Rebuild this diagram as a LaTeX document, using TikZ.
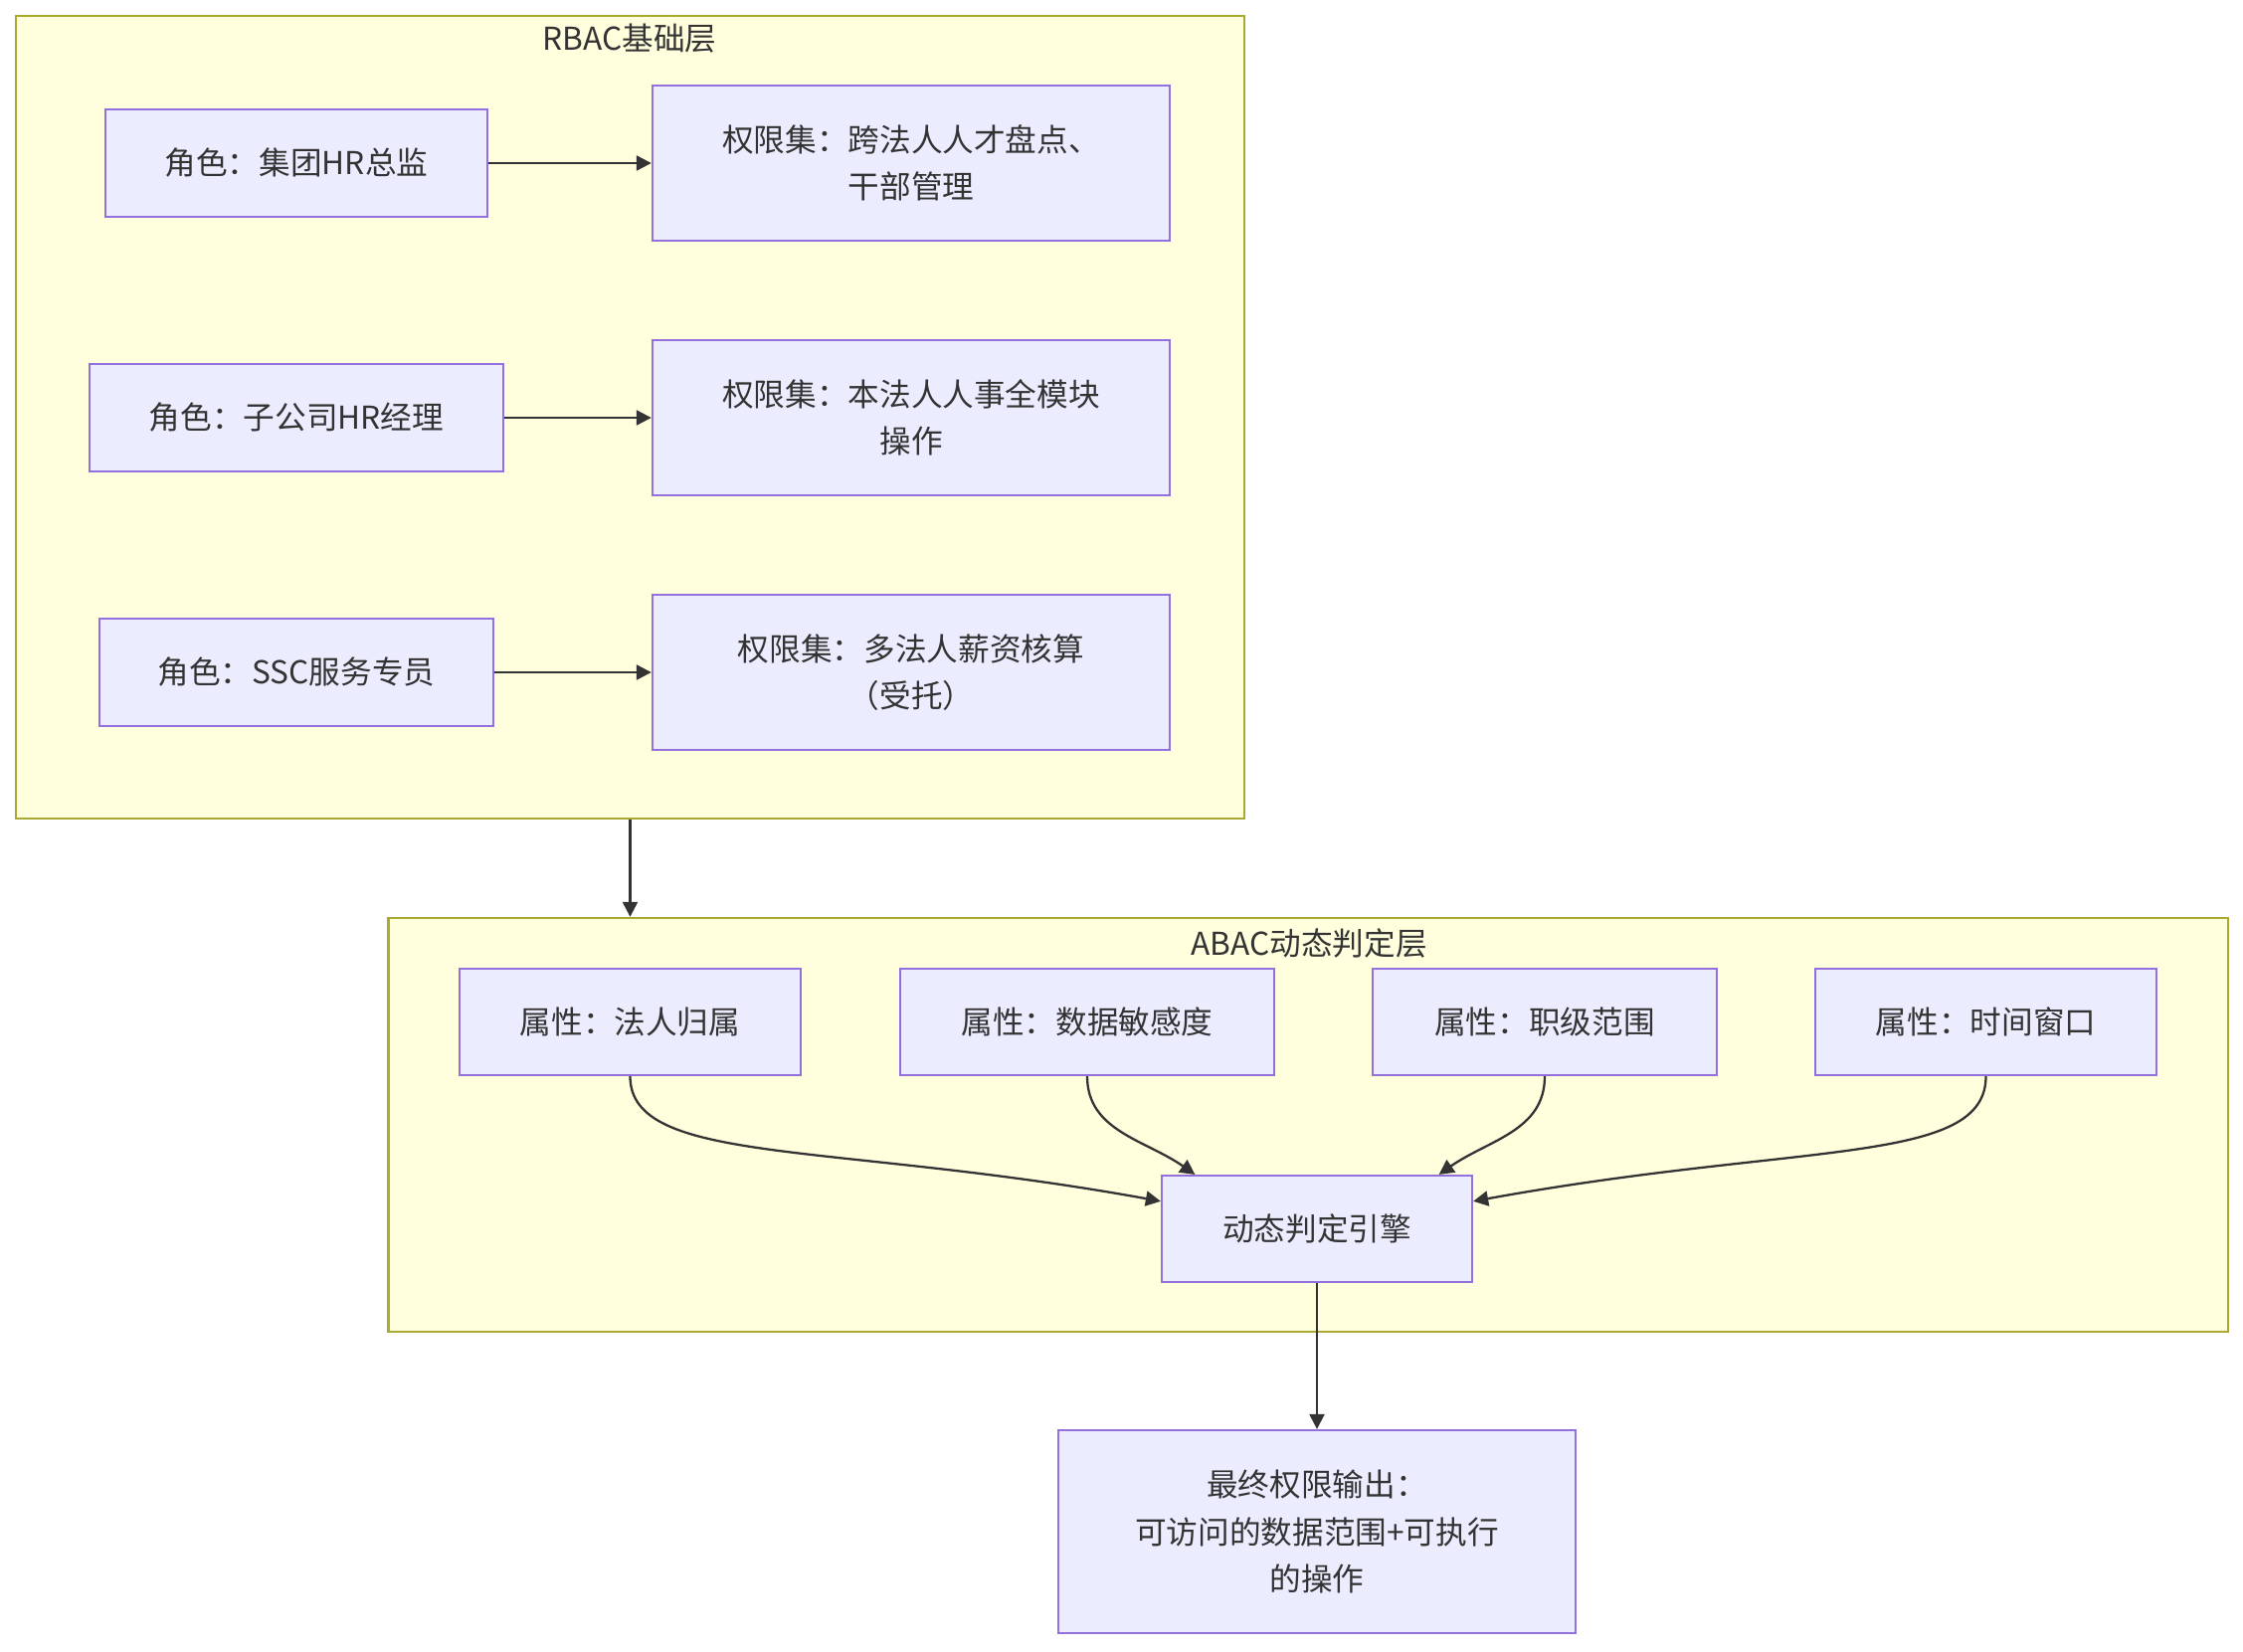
\documentclass[tikz,border=0pt]{standalone}
\usepackage{fontspec}
\setmainfont{Noto Sans CJK SC}
\usetikzlibrary{positioning,arrows.meta}
\definecolor{boxfill}{HTML}{ECECFF}
\definecolor{boxline}{HTML}{9370DB}
\definecolor{layerfill}{HTML}{FFFFDE}
\definecolor{layerline}{HTML}{AAAA33}
\definecolor{inkcol}{HTML}{333333}

\begin{document}
\begin{tikzpicture}[x=0.01cm,y=-0.01cm,
  font=\fontsize{9pt}{13.4pt}\selectfont,
  layer/.style={draw=layerline,fill=layerfill,line width=0.6pt,inner sep=0pt},
  box/.style={draw=boxline,fill=boxfill,line width=0.6pt,text=inkcol,align=center,inner sep=0pt},
  flow/.style={draw=inkcol,line width=0.65pt,-{Triangle[length=0.15cm,width=0.15cm]}}]
  \useasboundingbox (0,0) rectangle (2255,1660);

  % layers
  \node[layer,minimum width=12.35cm,minimum height=8.07cm] (rbac) at (633.5,419.5) {};
  \node[text=inkcol] (rbactitle) at (633,39) {RBAC基础层};
  \node[layer,minimum width=18.48cm,minimum height=4.16cm] (abac) at (1315,1131) {};
  \node[text=inkcol] (abactitle) at (1316,948) {ABAC动态判定层};

  % roles and permission sets
  \node[box,minimum width=3.84cm,minimum height=1.08cm] (r1) at (298,164) {角色：集团HR总监};
  \node[box,minimum width=5.2cm,minimum height=1.56cm] (p1) at (916,164) {权限集：跨法人人才盘点、\\干部管理};
  \node[box,minimum width=4.15cm,minimum height=1.08cm] (r2) at (298,420) {角色：子公司HR经理};
  \node[box,minimum width=5.2cm,minimum height=1.56cm] (p2) at (916,420) {权限集：本法人人事全模块\\操作};
  \node[box,minimum width=3.95cm,minimum height=1.08cm] (r3) at (298,676) {角色：SSC服务专员};
  \node[box,minimum width=5.2cm,minimum height=1.56cm] (p3) at (916,676) {权限集：多法人薪资核算\\（受托）};

  % attributes
  \node[box,minimum width=3.43cm,minimum height=1.07cm] (a1) at (633.5,1027.5) {属性：法人归属};
  \node[box,minimum width=3.76cm,minimum height=1.07cm] (a2) at (1093,1027.5) {属性：数据敏感度};
  \node[box,minimum width=3.46cm,minimum height=1.07cm] (a3) at (1553,1027.5) {属性：职级范围};
  \node[box,minimum width=3.43cm,minimum height=1.07cm] (a4) at (1996.5,1027.5) {属性：时间窗口};
  \node[box,minimum width=3.12cm,minimum height=1.07cm] (eng) at (1324,1235.5) {动态判定引擎};
  \node[box,minimum width=5.2cm,minimum height=2.04cm] (out) at (1324,1540) {最终权限输出：\\可访问的数据范围+可执行\\的操作};

  \draw[flow] (r1) -- (p1);
  \draw[flow] (r2) -- (p2);
  \draw[flow] (r3) -- (p3);
  \draw[flow] (rbac.south) -- (rbac.south |- abac.north);
  \draw[flow] (a1.south) .. controls +(0,90) and +(-330,-60) .. (eng.170);
  \draw[flow] (a2.south) .. controls +(0,55) and +(-50,-35) .. (eng.156);
  \draw[flow] (a3.south) .. controls +(0,55) and +(50,-35) .. (eng.24);
  \draw[flow] (a4.south) .. controls +(0,90) and +(330,-60) .. (eng.10);
  \draw[flow] (eng) -- (out);
\end{tikzpicture}
\end{document}
